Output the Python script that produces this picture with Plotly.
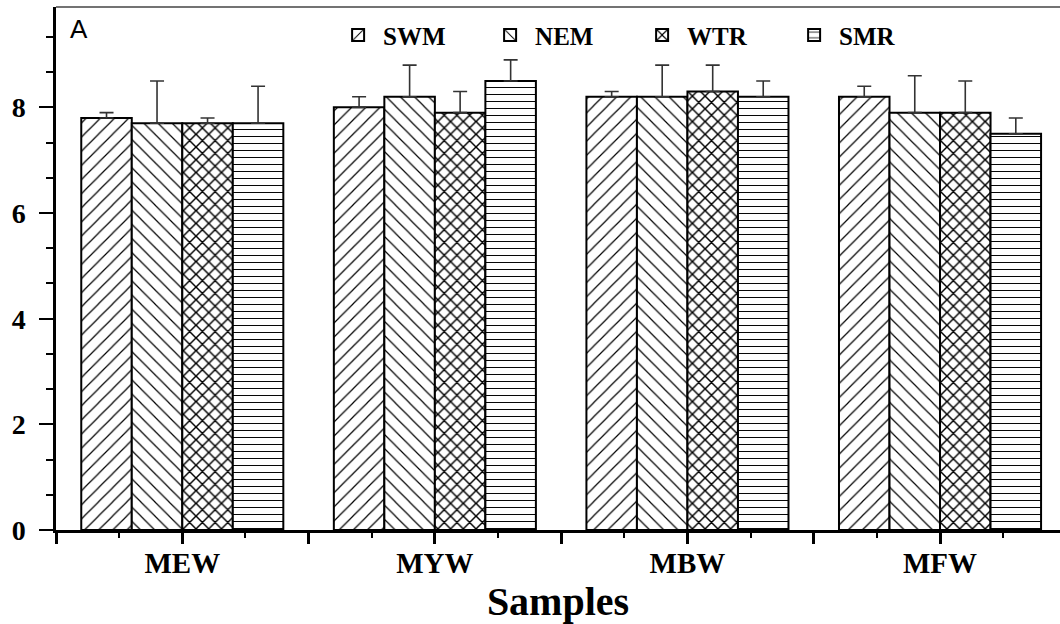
import plotly.graph_objects as go

categories = ["MEW", "MYW", "MBW", "MFW"]
series_names = ["SWM", "NEM", "WTR", "SMR"]
swm = [7.8, 8.0, 8.2, 8.2]
nem = [7.7, 8.2, 8.2, 7.9]
wtr = [7.7, 7.9, 8.3, 7.9]
smr = [7.7, 8.5, 8.2, 7.5]
swm_err = [0.1, 0.2, 0.1, 0.2]
nem_err = [0.8, 0.6, 0.6, 0.7]
wtr_err = [0.1, 0.4, 0.5, 0.6]
smr_err = [0.7, 0.4, 0.3, 0.3]

values = [swm, nem, wtr, smr]
errors = [swm_err, nem_err, wtr_err, smr_err]
shapes_pat = ["/", "\\", "x", "-"]
sizes_pat = [10, 10, 9, 7]
solid_pat = [0.12, 0.12, 0.3, 0.14]

xpos = list(range(len(categories)))
serif = "Liberation Serif"

fig = go.Figure()
for name, v, e, sh, sz, so in zip(series_names, values, errors, shapes_pat, sizes_pat, solid_pat):
    fig.add_trace(go.Bar(
        name=name, x=xpos, y=v,
        marker=dict(color="white",
                    line=dict(color="black", width=2),
                    pattern=dict(shape=sh, fgcolor="black", bgcolor="white", fgopacity=1,
                                 size=sz, solidity=so, fillmode="replace")),
        error_y=dict(type="data", array=e, arrayminus=[0] * len(e), symmetric=False,
                     color="#333333", thickness=1.6, width=7),
    ))

tickvals = []
ticktext = []
for i, c in enumerate(categories):
    tickvals += [i - 0.5, i]
    ticktext += ["", c]
tickvals.append(len(categories) - 0.5)
ticktext.append("")

fig.update_layout(
    width=1060, height=624,
    margin=dict(l=56, r=0, t=7, b=94),
    paper_bgcolor="white", plot_bgcolor="white",
    barmode="group", bargap=0.2, bargroupgap=0,
    showlegend=True,
    legend=dict(orientation="h", x=0.276, xanchor="left", y=0.99, yanchor="top",
                bgcolor="rgba(0,0,0,0)",
                font=dict(family=serif, size=25, color="black", weight="bold"),
                entrywidth=97, entrywidthmode="pixels", itemwidth=40,
                traceorder="normal"),
    xaxis=dict(range=[-0.5, 3.475], tickmode="array", tickvals=tickvals, ticktext=ticktext,
               automargin=False,
               showgrid=False, zeroline=False, showline=True, linecolor="black", linewidth=2.5,
               ticks="outside", ticklen=11, tickwidth=2.5, tickcolor="black",
               ticklabelstandoff=-6,
               tickfont=dict(family=serif, size=29, color="black", weight="bold"),
               minor=dict(dtick=0.25, tick0=-0.5, ticks="outside", ticklen=5, tickwidth=2,
                          tickcolor="black", showgrid=False),
               title=dict(text="Samples", font=dict(family=serif, size=40, color="black", weight="bold"),
                          standoff=20)),
    yaxis=dict(range=[0, 9.9], tickmode="linear", tick0=0, dtick=2,
               automargin=False,
               showgrid=False, zeroline=False, showline=True, linecolor="black", linewidth=2.5,
               ticks="outside", ticklen=14, tickwidth=2, tickcolor="black",
               ticklabelstandoff=8,
               tickfont=dict(family=serif, size=28, color="black", weight="bold"),
               minor=dict(dtick=2 / 3, tick0=0, ticks="outside", ticklen=7, tickwidth=2,
                          tickcolor="black", showgrid=False)),
    shapes=[dict(type="line", xref="paper", yref="paper", x0=0, x1=1, y0=1, y1=1,
                 line=dict(color="#444444", width=1.5))],
    annotations=[dict(text="A", xref="paper", yref="paper", x=0.012, y=0.99,
                      xanchor="left", yanchor="top", showarrow=False,
                      font=dict(family="Liberation Sans", size=26, color="black"))],
)

fig.write_html("out.html", config={"displayModeBar": False},
               post_script="document.body.style.margin='0';")
